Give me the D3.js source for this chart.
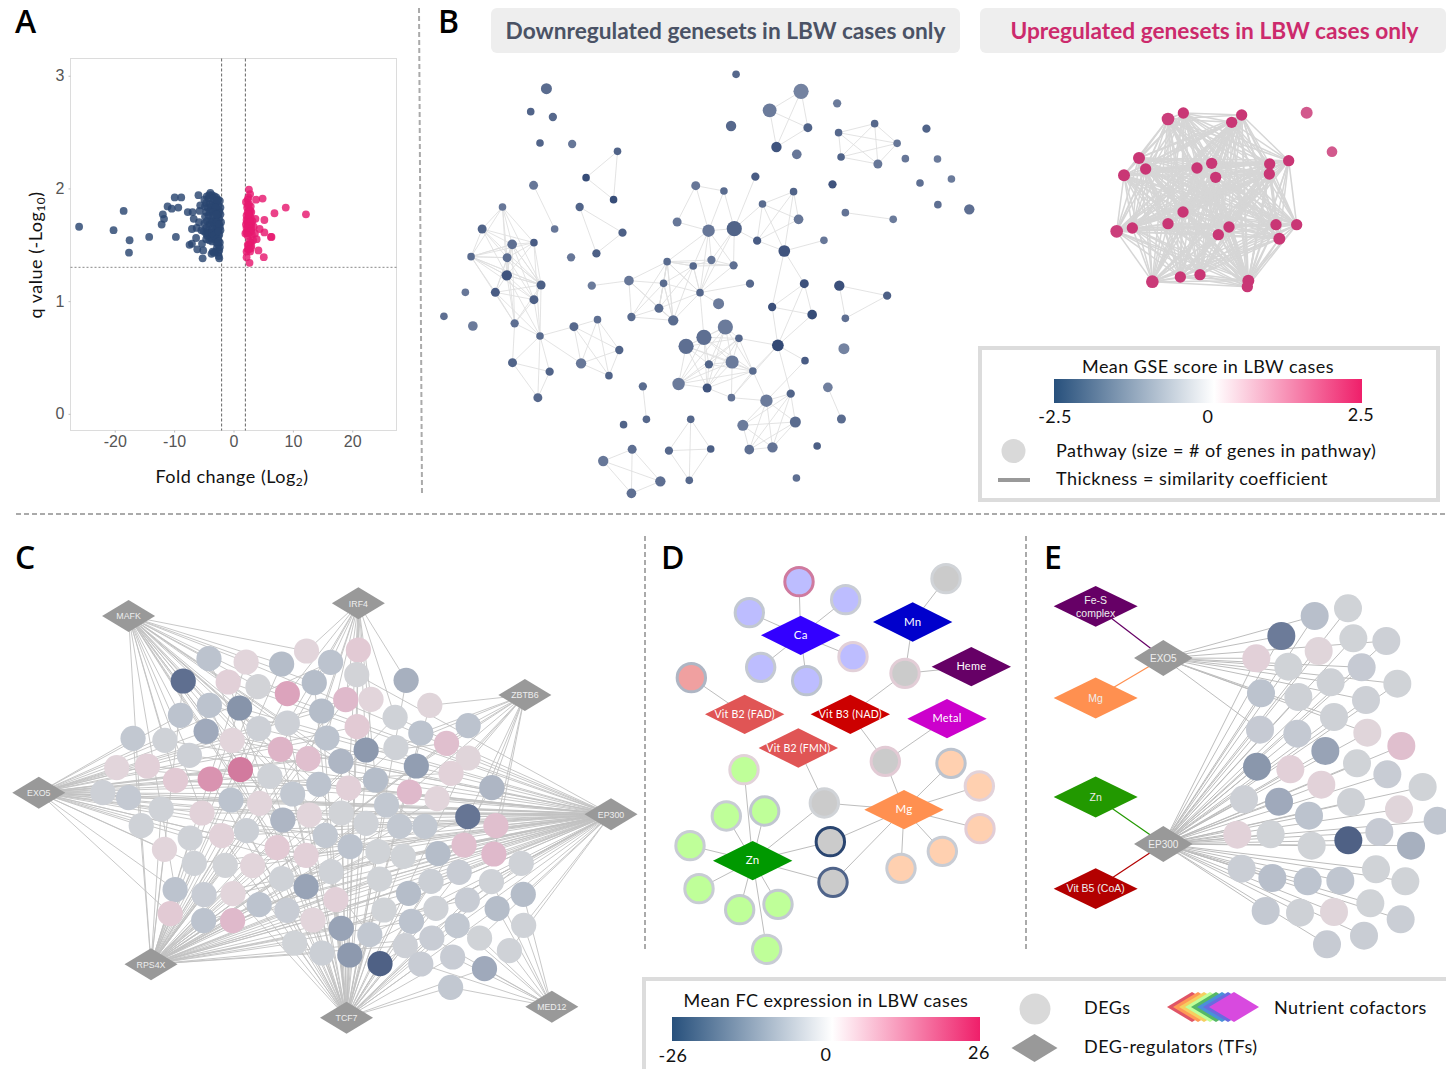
<!DOCTYPE html>
<html><head><meta charset="utf-8">
<script src="https://cdn.jsdelivr.net/npm/d3@7/dist/d3.min.js"></script>
<style>html,body{margin:0;padding:0;background:#fff;overflow:hidden}svg{display:block}
text{font-family:Lato,"Open Sans",sans-serif}</style></head><body><svg id="c" width="1446" height="1069"></svg>
<script>
// ---------- Panel A: volcano values (log2 fold change, -log10 q)
const volcanoDown=[[-26,1.66],[-20.2,1.63],[-18.5,1.8],[-17.5,1.54],[-17.6,1.43],[-14.2,1.57],[-12.1,1.68],[-11.9,1.77],[-11.7,1.73],[-11.1,1.84],[-10.4,1.82],[-9.3,1.83],[-9.9,1.92],[-8.8,1.92],[-9.7,1.57],[-5.9,1.94],[-7.7,1.79],[-6.9,1.79],[-5.7,1.8],[-5.6,1.85],[-6.7,1.73],[-5.8,1.7],[-7,1.64],[-6.2,1.65],[-5.4,1.63],[-6.3,1.56],[-7.4,1.5],[-7,1.51],[-5.3,1.51],[-6.1,1.46],[-5.1,1.45],[-5.2,1.38],
[-3.9,1.96],[-3.6,1.94],[-3.2,1.93],[-2.9,1.92],[-4.5,1.93],[-4.2,1.91],[-2.6,1.9],[-2.3,1.89],[-3.5,1.88],[-3,1.87],[-2.5,1.85],[-4.6,1.87],[-4,1.86],[-2.2,1.83],[-3.3,1.84],[-2.8,1.82],[-4.4,1.83],[-3.8,1.81],[-2.4,1.8],[-3.1,1.79],[-4.6,1.79],[-2.2,1.77],[-2.7,1.76],[-3.5,1.76],[-4.2,1.76],[-4.8,1.75],[-2.4,1.73],[-3,1.72],[-3.7,1.72],[-4.5,1.71],[-2.1,1.7],[-2.6,1.69],[-3.3,1.68],[-4.1,1.68],[-2.3,1.66],[-2.9,1.65],[-3.6,1.65],[-4.6,1.65],[-4.3,1.63],[-2.2,1.63],[-2.7,1.62],[-3.2,1.62],[-3.9,1.61],[-2.4,1.59],[-3,1.59],[-3.5,1.58],[-4.4,1.58],[-2.6,1.56],[-3.8,1.56],[-4.1,1.54],[-3.2,1.55],[-2.3,1.52],[-2.6,1.5],[-2.9,1.52],[-2.3,1.48],[-2.8,1.47],[-2.4,1.45],[-3,1.44],[-3.5,1.44],[-3.7,1.42],[-2.6,1.43],[-2.5,1.4],[-2.4,1.38],[-3.3,1.43],
[-4.9,1.9],[-4.1,1.94],[-3.4,1.91],[-2.8,1.89],[-4.8,1.84],[-3.7,1.84],[-3,1.83],[-2.5,1.78],[-4,1.79],[-3.4,1.79],[-2.9,1.77],[-4.9,1.69],[-3.9,1.7],[-3.5,1.7],[-2.8,1.7],[-2.4,1.68],[-5,1.62],[-4.6,1.6],[-4.2,1.6],[-3.6,1.61],[-2.9,1.6],[-3.3,1.58],[-2.5,1.62],[-4.6,1.55],[-3.6,1.53],[-2.8,1.55],[-2.5,1.53]];
const volcanoUp=[[12.2,1.77],[8.8,1.83],[6.9,1.78],[4.9,1.91],[3.8,1.9],[5.2,1.72],[6.3,1.57],[6.4,1.57],[5.2,1.61],[4.4,1.64],[3.7,1.73],[4.2,1.45],[5.1,1.39],[3.9,1.55],[2.7,1.34],[2.2,1.39],[2.6,1.99],[2.8,1.95],[2.4,1.9],[2.1,1.88],
[2.6,1.86],[2.9,1.84],[2.3,1.83],[2.7,1.81],[3,1.79],[2.4,1.79],[2.2,1.76],[2.7,1.77],[2.5,1.74],[2.9,1.74],[2.2,1.72],[3.2,1.71],[2.6,1.71],[2.4,1.69],[3,1.68],[2.1,1.68],[2.7,1.67],[3.4,1.66],[2.4,1.65],[3,1.64],[2.2,1.61],[2.7,1.62],[3.6,1.6],[2,1.6],[2.5,1.6],[3.1,1.59],[2.9,1.52],[3.3,1.54],[2.6,1.5],[2.9,1.47],[2.4,1.46],[2.2,1.44],[2.8,1.44],[3,1.49],
[2.5,1.92],[2.4,1.85],[2.8,1.8],[2.5,1.77],[2.3,1.7],[2.8,1.7],[2.6,1.66],[2.2,1.65],[2.9,1.62],[2.4,1.58],[2.7,1.53],[2.4,1.5],[2.6,1.46]];
const xTicksA=[-20,-10,0,10,20], yTicksA=[0,1,2,3];
const cutoffFC=[-2,2], cutoffQ=1.3;

// ---------- Panel B: geneset similarity network, layout units [x, y, size, mean GSE score]
const downSets=[[326,86,16,-1.9],[857,43,11,-1.95],[1039,94,22,-1.6],[951,151,20,-1.7],[843,198,15,-1.95],[1058,203,13,-2],[970,261,15,-2.2],[1027,283,14,-1.75],[1140,130,12,-1.7],[1245,191,11,-1.95],[1144,218,11,-1.95],[1308,250,11,-1.75],[1151,291,11,-2],[1254,312,13,-1.75],[1331,296,11,-1.75],[1390,206,12,-2],[1421,297,11,-1.7],[1372,369,11,-1.85],[1460,357,11,-1.7],[1422,434,11,-1.85],[1510,448,15,-1.85],[282,155,11,-2],[344,171,12,-1.95],[308,249,11,-2],[398,252,12,-1.75],[525,274,11,-2],[437,353,11,-2.3],[514,419,11,-2.3],[290,376,13,-1.75],[349,507,11,-1.75],[419,441,12,-2],[539,518,12,-2.05],[466,580,12,-2.05],[395,592,12,-1.75],[203,441,11,-1.75],[146,507,13,-2],[291,548,11,-2.1],[230,553,14,-1.85],[115,590,11,-1.9],[216,593,13,-1.85],[215,646,15,-2.2],[311,675,13,-2.05],[99,697,11,-1.75],[183,697,13,-2.1],[291,719,13,-2.05],[39,769,11,-1.85],[120,798,14,-1.7],[237,790,12,-1.85],[308,828,11,-1.9],[403,800,13,-1.95],[469,779,11,-1.85],[530,870,12,-2],[423,910,15,-1.75],[501,947,11,-2],[231,908,13,-2],[335,935,12,-2],[302,1013,13,-1.95],[453,677,12,-1.7],[557,662,14,-1.75],[564,771,12,-1.9],[641,745,13,-1.9],[681,781,15,-1.9],[654,670,11,-1.9],[664,605,11,-1.9],[737,618,11,-1.95],[788,600,12,-1.75],[850,616,12,-1.85],[756,698,11,-1.95],[896,671,12,-1.95],[808,731,16,-1.7],[744,377,13,-1.75],[823,393,11,-1.9],[692,486,13,-1.75],[780,512,18,-1.75],[852,506,22,-2],[911,350,12,-2.1],[931,432,11,-1.9],[1018,395,11,-2],[1032,478,14,-1.75],[916,542,12,-2.1],[992,573,17,-2.2],[1103,541,11,-1.75],[1127,373,12,-2.2],[1163,458,11,-1.8],[1297,478,11,-1.7],[1048,671,13,-2.25],[1146,677,15,-2.25],[1280,707,12,-2.05],[958,741,12,-2.25],[1070,764,14,-2.3],[1163,775,11,-1.85],[974,856,17,-2.35],[1050,902,11,-2.1],[1159,866,16,-1.6],[827,801,22,-1.7],[767,832,22,-1.85],[717,859,22,-1.85],[865,835,11,-1.95],[781,913,12,-2],[846,906,19,-1.7],[904,933,11,-1.9],[696,972,18,-1.7],[776,984,13,-2.2],[844,1013,11,-1.8],[942,1022,18,-1.7],[1010,1001,12,-2],[1114,982,14,-1.65],[1152,1077,13,-1.9],[1023,1086,16,-1.9],[876,1096,16,-1.7],[894,1169,14,-1.85],[959,1162,15,-1.8],[1084,1158,11,-2.05],[596,979,12,-1.9],[606,1078,11,-1.95],[542,1094,11,-2],[730,1078,11,-1.95],[669,1172,12,-1.95],[786,1167,11,-2.05],[726,1261,11,-1.95],[566,1168,13,-1.85],[485,1203,15,-1.75],[645,1264,15,-1.85],[564,1300,14,-1.85],[1026,1254,11,-1.85]];
// groups of fully linked genesets (1-based), then single links
const downGroups=[[3,4,6,7],[10,11,12,13,14],[26,27,28],[31,32,33],[35,36,37,38,39,40,41,42],[38,39,40,41,42,44,45,48],[50,51,52,53,54],[59,60,61,62,63,64],[61,62,63,64,65,68],[64,65,66,67,68,74],[86,89,90,92],[87,88,91],[95,96,97,98,99,100,101,102,103],[105,106,109,110,111,112],[117,118,119,120],[121,122,123,124],[77,78,79,80],[55,56,57]];
const downLinks=[[29,30],[37,49],[42,49],[45,49],[48,49],[44,49],[41,49],[49,50],[49,53],[49,55],[49,56],[49,57],[48,55],[58,59],[68,69],[68,70],[68,96],[71,72],[71,73],[71,74],[72,74],[72,75],[73,74],[74,75],[75,67],[75,68],[75,66],[76,75],[75,77],[75,80],[80,81],[77,81],[78,81],[81,82],[81,86],[81,89],[84,85],[92,93],[92,98],[92,101],[92,104],[92,106],[104,100],[104,101],[104,103],[104,105],[101,105],[93,105],[107,108],[114,115]];
const upSets=[[594,117,19,2.2],[640,99,17,2.3],[815,105,17,2.3],[785,127,17,2.3],[507,234,18,2.3],[527,267,17,2.3],[462,286,18,2.3],[681,264,17,2.3],[725,250,17,2.3],[737,292,17,2.3],[899,252,17,2.3],[898,282,17,2.3],[956,242,17,2.3],[639,396,17,2.3],[594,431,17,2.3],[487,444,17,2.3],[440,454,19,2.2],[777,441,17,2.3],[745,464,17,2.3],[918,434,17,2.3],[980,434,17,2.3],[928,476,18,2.3],[547,605,19,2.25],[631,591,17,2.3],[690,584,17,2.3],[835,602,18,2.3],[832,620,17,2.3]];
const upLoose=[[1010,98,18,1.9],[1086,215,16,1.9]];

// ---------- Panel C: DEG–TF network, layout units [x, y, mean FC, linked TFs]
const cHubs=[["MAFK",315,138],["IRF4",878,100],["ZBTB6",1286,375],["EXO5",95,668],["EP300",1497,733],["RPS4X",370,1183],["TCF7",849,1343],["MED12",1352,1310]];
const cHubCode="MIZXERTD";
const cDegs=[[512,266,-2.5,"MT"],[603,276,1.5,"MER"],[690,282,-3,"MR"],[751,243,1.5,"MI"],[810,277,-2.5,"IRX"],[878,240,2.5,"IT"],[874,314,-.5,"IRE"],[449,333,-9.5,"MR"],[559,336,2,"MET"],[632,350,-.5,"MRE"],[704,371,6,"MIR"],[770,338,-3,"IMT"],[847,389,4,"IRX"],[909,388,1.5,"IT"],[995,331,-4,"IT"],[1053,406,1.2,"ZT"],
[513,406,-2.5,"MTE"],[587,414,-6.5,"MER"],[442,436,-2.5,"MX"],[788,423,-3,"IXT"],[968,442,-.8,"IRE"],[875,470,2.5,"ITX"],[1147,467,-2.5,"ZR"],
[505,484,-4.5,"MXE"],[634,476,-1,"MRE"],[704,459,-1,"MIT"],[569,511,1.5,"MEX"],[326,505,-2,"XR"],[404,511,-.8,"XME"],[1031,489,-2.5,"ZT"],[801,504,-2.5,"IX"],
[687,538,4.5,"MRT"],[464,556,-1,"XEM"],[755,566,3.5,"IXR"],[835,574,-3.5,"ETM"],[897,540,-6,"RI"],[970,533,-.8,"ZR"],[1094,520,3.5,"ZRX"],[1147,564,1.2,"ZTE"],
[286,593,1.5,"XE"],[361,588,2,"XE"],[430,631,2.5,"XEM"],[515,627,7.5,"XT"],[589,599,10,"XM"],[661,619,-.8,"XTR"],[1020,588,-5.5,"ZR"],[1105,610,1.8,"ZX"],
[781,643,-2.5,"XEM"],[854,654,2,"ITE"],[920,630,-3,"RI"],[1205,653,-3.5,"ZT"],
[252,668,-1,"XE"],[315,683,-1.8,"XE"],[566,690,-2.5,"XTE"],[636,700,1.5,"XRE"],[717,672,-2,"XMT"],[1003,666,4,"RZ"],[1071,686,1.5,"RZE"],
[395,717,-.8,"XER"],[495,729,1.8,"XEM"],[693,750,-3.5,"MRE"],[758,735,1.5,"XTE"],[836,729,-.6,"MTE"],[947,705,-2,"XTR"],[1146,740,-9,"ZER"],[1215,767,3.5,"ZE"],
[346,767,-.8,"XMR"],[466,804,-.8,"XER"],[604,782,-1.2,"ERT"],[543,797,1.8,"XRT"],[797,796,-2,"XTE"],[897,760,-.8,"ERT"],[979,769,-2,"ERX"],[1041,769,-2,"ERM"],
[403,838,1.5,"XR"],[679,833,2.5,"ERM"],[750,856,2,"ETX"],[858,830,-2.5,"ERM"],[926,845,-.7,"ERT"],[988,859,-.7,"EXT"],[1073,851,-3,"ER"],[1137,825,3.5,"ZE"],[1210,852,4,"ZER"],
[476,880,-.8,"RXE"],[552,886,-.6,"RET"],[619,887,1.5,"RET"],[811,905,-.8,"ETX"],[1277,880,-.8,"ET"],[1125,907,-1.5,"ERT"],
[690,926,-.8,"ERT"],[750,950,-5,"ERM"],[930,927,-.7,"ETR"],[1056,934,-1.2,"ERT"],[1204,935,-.8,"EDT"],
[429,959,-2.5,"RXM"],[500,974,-1.5,"RE"],[571,971,1.5,"RET"],[635,1004,-2.5,"RE"],[1001,970,-3,"ETR"],[1282,973,-3,"ED"],[1145,990,-1.5,"ERT"],
[823,989,2,"ERT"],[703,1021,-1.5,"ER"],[417,1031,2.5,"RX"],[499,1052,-2.5,"RE"],[570,1052,4,"RE"],[767,1050,1.5,"RTE"],[941,1020,-.7,"ERT"],[1068,1015,-.8,"ETR"],[1218,1016,-3,"EDT"],[1008,1054,-2.5,"TRE"],
[1120,1067,-2,"ETD"],[1283,1066,-.8,"ED"],[836,1075,-5,"TRE"],[906,1094,-2,"TEM"],[1058,1104,-1.5,"TRD"],[1175,1104,-.7,"ED"],
[722,1119,-.7,"RT"],[993,1127,-1,"TR"],[1248,1142,-.8,"ED"],[789,1149,-1.2,"RT"],[857,1155,-6,"TE"],[931,1181,-10.5,"TE"],[1109,1161,-1.5,"TD"],[1031,1182,-1.5,"TD"],[1187,1196,-4.5,"TD"],[1104,1252,-2,"TD"]];

// ---------- Panel D: cofactor network, layout units
const dCofactors=[["Ca",452,256,"#3300ff"],["Mn",788,216,"#0000cc"],["Heme",964,350,"#660066"],["Vit B2 (FAD)",284,493,"#e05555"],["Vit B3 (NAD)",601,493,"#cc0000"],["Metal",891,506,"#cc00cc"],["Vit B2 (FMN)",445,594,"#e05555"],["Mg",762,779,"#ff9050"],["Zn",308,932,"#009900"]];
const dCofactorTint={Ca:"#bdbdff",Zn:"#bfff99",Mg:"#ffd0b0",FAD:"#f0a0a0",none:"#cbcbcb"};
// [x, y, mean FC, tint, linked cofactors]
const dDegs=[[447,95,9,"Ca",["Ca"]],[587,149,-1.5,"Ca",["Ca"]],[298,188,-2,"Ca",["Ca"]],[609,320,2,"Ca",["Ca"]],[332,352,-1.8,"Ca",["Ca"]],[470,392,-2.5,"Ca",["Ca"]],[888,86,-.7,"none",["Mn"]],[765,370,2.2,"none",["Mn","Heme","Vit B3 (NAD)"]],[124,383,-3.5,"FAD",["Vit B2 (FAD)"]],[706,634,2.5,"none",["Vit B3 (NAD)","Metal","Mg"]],[903,640,-2.5,"Mg",["Mg"]],[988,708,1.8,"Mg",["Mg"]],[990,836,2.2,"Mg",["Mg"]],[877,904,-1.5,"Mg",["Mg"]],[753,955,-1.5,"Mg",["Mg"]],[523,759,-.7,"none",["Vit B2 (FMN)","Mg","Zn"]],[541,875,-24,"none",["Zn","Mg"]],[549,997,-12,"none",["Zn","Mg"]],[282,659,1.8,"Zn",["Zn"]],[229,798,-1.5,"Zn",["Zn"]],[344,783,-2.2,"Zn",["Zn"]],[120,887,-1.5,"Zn",["Zn"]],[147,1016,-1.5,"Zn",["Zn"]],[269,1079,-1.8,"Zn",["Zn"]],[384,1063,-1.8,"Zn",["Zn"]],[350,1198,-1.5,"Zn",["Zn"]]];

// ---------- Panel E
const eCofactors=[[["Fe-S","complex"],197,109,"#660066","EXO5"],[["Mg"],197,384,"#ff9050","EXO5"],[["Zn"],197,681,"#229900","EP300"],[["Vit B5 (CoA)"],197,956,"#b30000","EP300"]];
const eHubs=[["EXO5",400,264],["EP300",400,822]];
const eDegs=[[854,138,-2.8,2],[954,115,-.7,1],[754,198,-8.5,2],[970,205,-.7,1],[1069,213,-1,2],[679,265,2,2],[866,243,1.2,1],[775,290,-.7,2],[995,292,-1.7,2],[902,337,-.9,2],[1102,341,-.7,2],[693,370,-2.5,2],[805,381,-.9,1],[1008,390,-1,2],[690,479,-1.7,2],[802,491,-1.8,1],[912,441,-.9,2],[1012,488,1.2,2],[1114,528,3.5,1],[886,543,-5,1],[681,590,-6.2,1],[781,598,2,1],[981,580,-.7,1],[1072,613,-1.5,1],[874,644,1.8,1],[1178,651,-.7,1],[642,688,-1,1],[747,695,-4.5,1],[837,737,-2.5,1],[963,696,-.9,1],[1107,718,1.2,1],[622,794,1.8,1],[722,793,-.7,1],[845,827,-.7,1],[955,811,-10.5,1],[1048,786,-1.7,1],[1143,827,-4,1],[1223,752,-2.2,1],[635,896,-1.3,1],[727,924,-2.8,1],[833,934,-2.4,1],[931,932,-2.2,1],[1038,898,-.7,1],[1126,934,-.7,1],[707,1023,-1.8,1],[810,1028,-.9,1],[912,1026,1.2,1],[1021,1000,-.7,1],[1112,1048,-1.3,1],[891,1123,-1.6,1],[1002,1097,-1.4,1]];

const legendColors=["#27507c","#ffffff","#ef1f6a"];
const rainbow=["#e05566","#ff9a55","#f5d060","#bfff99","#55b866","#4a90d9","#6a6ae0","#d84adf"];

// ---------- drawing
const svg=d3.select("#c");
const defs=svg.append("defs");
const diamond=(cx,cy,w,h)=>d3.line()([[cx-w,cy],[cx,cy-h],[cx+w,cy],[cx,cy+h]])+"Z";
const T=(x,y,s,o={})=>{const t=svg.append("text").attr("x",x).attr("y",y).text(s)
  .attr("font-size",o.size||18).attr("fill",o.fill||"#111").attr("text-anchor",o.anchor||"start")
  .attr("letter-spacing",o.spacing!==undefined?o.spacing:(o.size?0:.46));
  if(o.weight)t.attr("font-weight",o.weight); if(o.family)t.style("font-family",o.family); return t;};
const grad=(id)=>{const g=defs.append("linearGradient").attr("id",id);
  [[0,0],[.52,1],[1,2]].forEach(([o,i])=>g.append("stop").attr("offset",o).attr("stop-color",legendColors[i]));};
grad("gA");grad("gB");

// dividers
const dash=(x1,y1,x2,y2)=>svg.append("line").attr("x1",x1).attr("y1",y1).attr("x2",x2).attr("y2",y2).attr("stroke","#aaaaaa").attr("stroke-width",2).attr("stroke-dasharray","5,3");
dash(419,8,422,494);dash(16,514,1446,514);dash(645,536,645,952);dash(1026,536,1026,952);
[["A",15,33],["B",438,33],["C",15,569],["D",661,569],["E",1044,569]].forEach(([s,x,y])=>T(x,y,s,{size:32,weight:600,fill:"#000",family:"'Open Sans',sans-serif"}));

// ---- Panel A
const xA=d3.scaleLinear([-27.45,27.45],[70.5,396.5]);
const yA=d3.scaleLinear([-.148,3.153],[430.5,58.5]);
const gA=svg.append("g");
gA.append("rect").attr("x",70.5).attr("y",58.5).attr("width",326).attr("height",372).attr("fill","#fff").attr("stroke","#dcdcdc");
const axX=gA.append("g").attr("transform","translate(0,430.5)").call(d3.axisBottom(xA).tickValues(xTicksA).tickSize(2).tickPadding(3).tickFormat(d=>String(d)));
const axY=gA.append("g").attr("transform","translate(70.5,0)").call(d3.axisLeft(yA).tickValues(yTicksA).tickSize(2).tickPadding(4).tickFormat(d=>String(d)));
[axX,axY].forEach(a=>{a.select(".domain").remove();a.selectAll("line").attr("stroke","#bbb");a.selectAll("text").attr("fill","#555").attr("font-size",16).style("font-family","'Liberation Sans',sans-serif");});
cutoffFC.forEach(v=>gA.append("line").attr("x1",xA(v)).attr("x2",xA(v)).attr("y1",58.5).attr("y2",430.5).attr("stroke","#666").attr("stroke-dasharray","3,2"));
gA.append("line").attr("x1",70.5).attr("x2",396.5).attr("y1",yA(cutoffQ)).attr("y2",yA(cutoffQ)).attr("stroke","#888").attr("stroke-dasharray","2,2");
gA.selectAll("circle.d").data(volcanoDown).join("circle").attr("cx",d=>xA(d[0])).attr("cy",d=>yA(d[1])).attr("r",3.9).attr("fill","#2a4570").attr("opacity",.82);
gA.selectAll("circle.u").data(volcanoUp).join("circle").attr("cx",d=>xA(d[0])).attr("cy",d=>yA(d[1])).attr("r",3.9).attr("fill","#e6196f").attr("opacity",.82);
const tx=T(232,483,"Fold change (Log",{anchor:"middle",size:18,spacing:.5});
tx.append("tspan").attr("dy",3).attr("font-size",12).text("2");tx.append("tspan").attr("dy",-3).text(")");
const ty=T(0,0,"q value (-Log",{anchor:"middle",size:18,spacing:.5}).attr("transform","translate(42,255) rotate(-90)");
ty.append("tspan").attr("dy",3).attr("font-size",12).text("10");ty.append("tspan").attr("dy",-3).text(")");

// ---- Panel B
[[491,469,"Downregulated genesets in LBW cases only","#4a5265",725.5],[980,466,"Upregulated genesets in LBW cases only","#cc2a6c",1214.5]].forEach(([x,w,s,c,m])=>{
  svg.append("rect").attr("x",x).attr("y",8).attr("width",w).attr("height",45).attr("rx",6).attr("fill","#eeeeee");
  T(m,39,s,{size:22.7,anchor:"middle",fill:c,weight:700});});
const gse=d3.scaleLinear([-2.5,0,2.5],["#263d6c","#ffffff","#c42469"]);
const xB=d3.scaleLinear([0,1568],[430,990]), yB=d3.scaleLinear([0,1320],[60,500]);
const rB=d3.scaleLinear([0,22],[0,7.6]);
const xU=d3.scaleLinear([0,1428],[970,1446]), yU=d3.scaleLinear([0,1290],[80,510]);
const pairsOf=(gs)=>gs.flatMap(g=>g.flatMap((a,i)=>g.slice(i+1).map(b=>[a,b])));
const gB=svg.append("g");
gB.selectAll("line.e").data(pairsOf(downGroups).concat(downLinks)).join("line")
 .attr("x1",d=>xB(downSets[d[0]-1][0])).attr("y1",d=>yB(downSets[d[0]-1][1]))
 .attr("x2",d=>xB(downSets[d[1]-1][0])).attr("y2",d=>yB(downSets[d[1]-1][1]))
 .attr("stroke","#e0e0e0").attr("stroke-width",.9);
const gU=svg.append("g");
gU.selectAll("line").data(pairsOf([d3.range(upSets.length)])).join("line")
 .attr("x1",d=>xU(upSets[d[0]][0])).attr("y1",d=>yU(upSets[d[0]][1]))
 .attr("x2",d=>xU(upSets[d[1]][0])).attr("y2",d=>yU(upSets[d[1]][1]))
 .attr("stroke","#d6d6d6").attr("stroke-width",1.5);
gB.selectAll("circle").data(downSets).join("circle").attr("cx",d=>xB(d[0])).attr("cy",d=>yB(d[1])).attr("r",d=>rB(d[2])).attr("fill",d=>gse(d[3]));
gU.selectAll("circle").data(upSets.concat(upLoose)).join("circle").attr("cx",d=>xU(d[0])).attr("cy",d=>yU(d[1])).attr("r",d=>d[2]/3).attr("fill",d=>gse(d[3]));
// legend B
svg.append("rect").attr("x",980).attr("y",348).attr("width",458).attr("height",152).attr("fill","none").attr("stroke","#dcdcdc").attr("stroke-width",4);
T(1208,373,"Mean GSE score in LBW cases",{anchor:"middle"});
svg.append("rect").attr("x",1054).attr("y",379).attr("width",308).attr("height",24).attr("fill","url(#gA)");
T(1055,423,"-2.5",{anchor:"middle"});T(1208,423,"0",{anchor:"middle"});T(1361,421,"2.5",{anchor:"middle"});
svg.append("circle").attr("cx",1013.5).attr("cy",451).attr("r",12).attr("fill","#d9d9d9");
T(1056,457,"Pathway (size = # of genes in pathway)");
svg.append("line").attr("x1",998).attr("x2",1030).attr("y1",480).attr("y2",480).attr("stroke","#999").attr("stroke-width",4);
T(1056,485,"Thickness = similarity coefficient");

// ---- FC colours
const fcStops=[[-24,"#2a4570"],[-12,"#50648a"],[-10.5,"#4f6185"],[-9.5,"#5f6f90"],[-6.5,"#8794aa"],[-5,"#98a3b6"],[-3.5,"#aeb6c4"],[-2.5,"#bcc3ce"],[-1.5,"#c8ccd4"],[-.7,"#d0d3d7"],[1.5,"#e2d5db"],[2.5,"#e2cad4"],[4,"#dfb9cb"],[7.5,"#d993b0"],[10,"#d27a9e"]];
const fc=d3.scaleLinear(fcStops.map(d=>d[0]),fcStops.map(d=>d[1]));

// ---- Panel C
const xC=d3.scaleLinear([0,1568],[0,640]), yC=d3.scaleLinear([0,1470],[570,1060]);
const gC=svg.append("g");
const hubOf=c=>cHubs[cHubCode.indexOf(c)];
gC.selectAll("line").data(cDegs.flatMap(d=>[...d[3]].map(c=>[d,hubOf(c)]))).join("line")
 .attr("x1",d=>xC(d[0][0])).attr("y1",d=>yC(d[0][1])).attr("x2",d=>xC(d[1][1])).attr("y2",d=>yC(d[1][2]))
 .attr("stroke","#c2c2c2").attr("stroke-width",.9);
gC.selectAll("circle").data(cDegs).join("circle").attr("cx",d=>xC(d[0])).attr("cy",d=>yC(d[1])).attr("r",12.6).attr("fill",d=>fc(d[2]));
cHubs.forEach(([n,x,y])=>{gC.append("path").attr("d",diamond(xC(x),yC(y),26.5,16)).attr("fill","#999");
  T(xC(x),yC(y)+3.2,n,{size:8.8,anchor:"middle",fill:"#eee",family:"'Liberation Sans',sans-serif"});});

// ---- Panel D
const xD=d3.scaleLinear([0,1110],[650,1020]), yD=d3.scaleLinear([0,1260],[550,970]);
const gD=svg.append("g");
const cof=n=>dCofactors.find(c=>c[0]===n);
gD.selectAll("line").data(dDegs.flatMap(d=>d[4].map(n=>[d,cof(n)]))).join("line")
 .attr("x1",d=>xD(d[0][0])).attr("y1",d=>yD(d[0][1])).attr("x2",d=>xD(d[1][1])).attr("y2",d=>yD(d[1][2]))
 .attr("stroke","#bdbdbd").attr("stroke-width",1);
gD.selectAll("circle").data(dDegs).join("circle").attr("cx",d=>xD(d[0])).attr("cy",d=>yD(d[1])).attr("r",14.2)
 .attr("fill",d=>dCofactorTint[d[3]]).attr("stroke",d=>d[2]>8?"#cf7a9f":fc(d[2])).attr("stroke-width",3);
dCofactors.forEach(([n,x,y,c])=>{gD.append("path").attr("d",diamond(xD(x),yD(y),39.7,19.7)).attr("fill",c);
  T(xD(x),yD(y)+3.8,n,{size:n.length>5?10.5:n.length>2?11:11.5,anchor:"middle",fill:"#fff",spacing:.25});});

// ---- Panel E
const xE=d3.scaleLinear([0,1248],[1030,1446]), yE=d3.scaleLinear([0,1200],[570,970]);
const gE=svg.append("g");
gE.selectAll("line.a").data(eDegs.flatMap(d=>d[3]===2?[[d,eHubs[0]],[d,eHubs[1]]]:[[d,eHubs[1]]])).join("line")
 .attr("x1",d=>xE(d[0][0])).attr("y1",d=>yE(d[0][1])).attr("x2",d=>xE(d[1][1])).attr("y2",d=>yE(d[1][2]))
 .attr("stroke","#bdbdbd").attr("stroke-width",1);
eCofactors.forEach(([n,x,y,c,h])=>{const hub=eHubs.find(e=>e[0]===h);
  gE.append("line").attr("x1",xE(x)).attr("y1",yE(y)).attr("x2",xE(hub[1])).attr("y2",yE(hub[2])).attr("stroke",c).attr("stroke-width",1.2);});
gE.selectAll("circle").data(eDegs).join("circle").attr("cx",d=>xE(d[0])).attr("cy",d=>yE(d[1])).attr("r",14).attr("fill",d=>fc(d[2]));
eCofactors.forEach(([n,x,y,c])=>{gE.append("path").attr("d",diamond(xE(x),yE(y),42,20.4)).attr("fill",c);
  n.forEach((s,i)=>T(xE(x),yE(y)+3.8+(n.length>1?(i-.5)*13:0),s,{size:10.5,anchor:"middle",fill:"#eee",family:"'Liberation Sans',sans-serif"}));});
eHubs.forEach(([n,x,y])=>{gE.append("path").attr("d",diamond(xE(x),yE(y),29.3,18)).attr("fill","#999");
  T(xE(x),yE(y)+3.5,n,{size:10,anchor:"middle",fill:"#eee",family:"'Liberation Sans',sans-serif"});});

// ---- bottom legend
svg.append("rect").attr("x",644).attr("y",979).attr("width",900).attr("height",200).attr("fill","none").attr("stroke","#dcdcdc").attr("stroke-width",4);
T(826,1007,"Mean FC expression in LBW cases",{anchor:"middle"});
svg.append("rect").attr("x",672).attr("y",1017).attr("width",308).attr("height",24).attr("fill","url(#gB)");
T(673,1062,"-26",{anchor:"middle"});T(826,1061,"0",{anchor:"middle"});T(979,1059,"26",{anchor:"middle"});
svg.append("circle").attr("cx",1035).attr("cy",1009).attr("r",15.5).attr("fill","#d9d9d9");
T(1084,1014,"DEGs");
svg.append("path").attr("d",diamond(1034.5,1048,23,14)).attr("fill","#999");
T(1084,1053,"DEG-regulators (TFs)");
svg.selectAll("path.r").data(rainbow).join("path").attr("d",(c,i)=>diamond(1192+i*6,1007,25,15)).attr("fill",d=>d);
T(1274,1014,"Nutrient cofactors");
</script></body></html>
